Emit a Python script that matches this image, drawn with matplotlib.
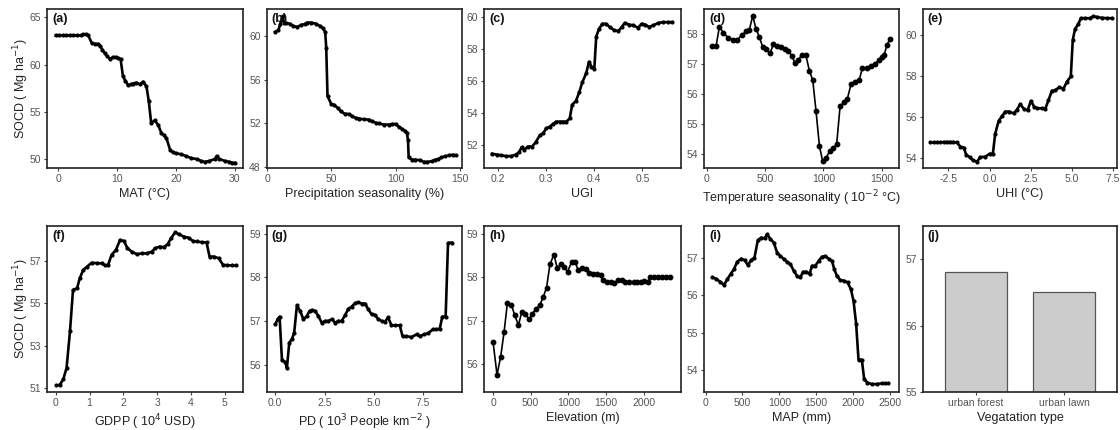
import matplotlib
matplotlib.use("Agg")
import matplotlib.pyplot as plt

plt.rcParams["font.family"] = ["Liberation Sans", "DejaVu Sans"]

# (a) mean annual temperature
mat_x = [-0.4, 0.2, 0.8, 1.4, 2.0, 2.6, 3.2, 3.8, 4.3, 4.8, 5.1, 5.7, 6.2, 6.8, 7.1, 7.5, 7.9, 8.3,
         8.8, 9.3, 9.8, 10.2, 10.6, 11.0, 11.4, 11.9, 12.3, 12.7, 13.3, 13.9, 14.4, 15.0, 15.4, 15.8,
         16.4, 17.0, 17.5, 18.0, 18.4, 19.0, 19.5, 20.1, 20.9, 21.8, 22.6, 23.5, 24.3, 24.9, 25.7,
         26.6, 26.9, 27.4, 28.3, 29.1, 29.6, 30.0]
mat_y = [63.1, 63.1, 63.1, 63.1, 63.1, 63.1, 63.1, 63.1, 63.2, 63.2, 63.1, 62.3, 62.2, 62.2, 62.0,
         61.6, 61.2, 60.9, 60.6, 60.8, 60.8, 60.7, 60.6, 58.8, 58.3, 57.8, 57.9, 58.0, 58.1, 57.9,
         58.2, 57.7, 56.1, 53.8, 54.1, 53.6, 52.8, 52.5, 52.2, 51.0, 50.7, 50.6, 50.5, 50.3, 50.1,
         50.0, 49.8, 49.7, 49.8, 50.0, 50.3, 50.0, 49.8, 49.7, 49.6, 49.6]

# (b) precipitation seasonality
ps_x = [5.9, 8.5, 10.2, 11.8, 12.9, 14.9, 17.3, 20.1, 23.2, 26.5, 29.1, 30.9, 34.3, 37.6, 40.8,
        43.2, 45.1, 45.9, 46.9, 49.7, 52.0, 55.1, 57.1, 60.2, 63.9, 66.3, 69.1, 71.4, 75.5, 79.4,
        81.6, 84.5, 86.7, 90.8, 94.9, 97.4, 100.0, 102.5, 105.1, 107.7, 108.9, 109.7, 110.2,
        112.8, 115.3, 119.3, 121.8, 124.4, 128.3, 130.9, 133.4, 135.7, 138.7, 141.8, 144.8, 146.9]
ps_y = [60.35, 60.5, 61.1, 61.8, 61.2, 61.15, 61.1, 60.9, 60.8, 61.0, 61.05, 61.2, 61.2, 61.1,
        60.9, 60.7, 60.35, 58.9, 54.5, 53.8, 53.7, 53.4, 53.1, 52.9, 52.85, 52.65, 52.5, 52.45,
        52.37, 52.35, 52.2, 52.07, 52.0, 51.9, 51.9, 51.95, 51.95, 51.7, 51.5, 51.3, 51.1, 50.45,
        48.9, 48.7, 48.7, 48.65, 48.5, 48.5, 48.55, 48.7, 48.75, 48.9, 49.0, 49.1, 49.15, 49.1]

# (c) urban green index
ugi_x = [0.1875, 0.197, 0.207, 0.217, 0.228, 0.237, 0.244, 0.249, 0.255, 0.262, 0.271, 0.278,
         0.287, 0.294, 0.300, 0.307, 0.314, 0.321, 0.328, 0.335, 0.342, 0.349, 0.354, 0.362,
         0.369, 0.375, 0.383, 0.389, 0.394, 0.400, 0.404, 0.410, 0.417, 0.424, 0.432, 0.441,
         0.450, 0.457, 0.463, 0.472, 0.481, 0.491, 0.498, 0.505, 0.514, 0.522, 0.533, 0.543,
         0.553, 0.562]
ugi_y = [51.45, 51.4, 51.35, 51.3, 51.3, 51.4, 51.55, 51.85, 51.7, 51.9, 51.9, 52.15, 52.6, 52.73,
         53.03, 53.13, 53.3, 53.45, 53.45, 53.45, 53.45, 53.65, 54.5, 54.75, 55.3, 55.9, 56.45,
         57.18, 56.88, 56.72, 58.75, 59.25, 59.55, 59.55, 59.35, 59.15, 59.1, 59.35, 59.6, 59.5,
         59.45, 59.3, 59.55, 59.5, 59.35, 59.45, 59.6, 59.65, 59.65, 59.65]

# (d) temperature seasonality
ts_x = [43, 80, 109, 143, 186, 229, 263, 300, 337, 366, 394, 423, 451, 480, 509, 543, 571, 600,
        634, 669, 700, 729, 757, 786, 814, 849, 880, 909, 937, 966, 994, 1023, 1057, 1086, 1114,
        1143, 1177, 1206, 1237, 1271, 1306, 1334, 1371, 1409, 1443, 1475, 1500, 1520, 1545, 1571]
ts_y = [57.58, 57.58, 58.24, 58.03, 57.87, 57.8, 57.8, 57.96, 58.08, 58.14, 58.6, 58.17, 57.9,
        57.56, 57.48, 57.35, 57.65, 57.6, 57.56, 57.5, 57.43, 57.27, 57.02, 57.12, 57.3, 57.3,
        56.77, 56.45, 55.42, 54.26, 53.74, 53.86, 54.1, 54.2, 54.32, 55.58, 55.72, 55.84, 56.32,
        56.4, 56.45, 56.85, 56.87, 56.92, 57.0, 57.12, 57.22, 57.3, 57.62, 57.84]

# (e) urban heat island
uhi_x = [-3.6, -3.4, -3.2, -3.0, -2.8, -2.6, -2.4, -2.2, -2.0, -1.78, -1.58, -1.42, -1.21, -1.01,
         -0.77, -0.57, -0.26, 0.0, 0.2, 0.34, 0.55, 0.75, 0.95, 1.21, 1.46, 1.66, 1.86, 2.1, 2.31,
         2.51, 2.71, 2.91, 3.18, 3.38, 3.58, 3.79, 3.99, 4.25, 4.49, 4.7, 4.94, 5.06, 5.2, 5.4,
         5.55, 5.81, 6.11, 6.32, 6.56, 6.82, 7.13, 7.43]
uhi_y = [54.75, 54.75, 54.75, 54.75, 54.77, 54.77, 54.77, 54.77, 54.75, 54.55, 54.5, 54.15, 54.03,
         53.87, 53.8, 54.03, 54.05, 54.2, 54.2, 55.17, 55.8, 56.03, 56.26, 56.26, 56.17, 56.35,
         56.62, 56.38, 56.32, 56.78, 56.5, 56.42, 56.42, 56.38, 56.81, 57.28, 57.3, 57.46, 57.37,
         57.72, 57.98, 59.77, 60.3, 60.55, 60.83, 60.83, 60.83, 60.93, 60.88, 60.85, 60.83, 60.83]

# (f) GDP per capita
gdp_x = [0.02, 0.12, 0.22, 0.32, 0.42, 0.51, 0.63, 0.71, 0.81, 0.93, 1.06, 1.21, 1.36, 1.46, 1.55,
         1.65, 1.78, 1.9, 2.02, 2.12, 2.25, 2.4, 2.54, 2.69, 2.84, 2.94, 3.07, 3.19, 3.31, 3.41,
         3.53, 3.66, 3.8, 3.93, 4.06, 4.18, 4.33, 4.46, 4.55, 4.67, 4.82, 4.95, 5.07, 5.2, 5.32]
gdp_y = [51.12, 51.15, 51.4, 51.95, 53.67, 55.62, 55.7, 56.17, 56.56, 56.72, 56.9, 56.88, 56.87,
         56.77, 56.8, 57.27, 57.5, 57.97, 57.92, 57.58, 57.42, 57.3, 57.34, 57.34, 57.42, 57.58,
         57.66, 57.63, 57.77, 58.05, 58.33, 58.23, 58.12, 58.08, 57.92, 57.9, 57.86, 57.86, 57.19,
         57.19, 57.11, 56.8, 56.78, 56.77, 56.77]

# (g) population density
pd_x = [0.0, 0.12, 0.22, 0.34, 0.51, 0.59, 0.71, 0.84, 0.96, 1.1, 1.26, 1.43, 1.6, 1.74, 1.85,
        2.02, 2.19, 2.36, 2.53, 2.7, 2.87, 3.04, 3.2, 3.37, 3.54, 3.71, 3.88, 4.05, 4.22, 4.38,
        4.55, 4.72, 4.89, 5.06, 5.23, 5.4, 5.56, 5.73, 5.9, 6.07, 6.32, 6.46, 6.66, 6.91, 7.17,
        7.34, 7.54, 7.76, 8.01, 8.18, 8.35, 8.48, 8.65, 8.77, 8.95]
pd_y = [56.92, 57.04, 57.1, 56.1, 56.05, 55.92, 56.5, 56.58, 56.73, 57.36, 57.23, 57.04, 57.11,
        57.23, 57.25, 57.23, 57.11, 56.96, 57.0, 57.0, 57.04, 56.96, 57.0, 57.0, 57.13, 57.28,
        57.33, 57.41, 57.43, 57.4, 57.4, 57.27, 57.15, 57.14, 57.04, 57.0, 56.98, 57.08, 56.9,
        56.9, 56.9, 56.65, 56.65, 56.63, 56.69, 56.65, 56.69, 56.72, 56.81, 56.81, 56.82, 57.1,
        57.1, 58.79, 58.8]

# (h) elevation
elev_x = [0, 53, 102, 147, 191, 244, 289, 338, 382, 431, 480, 524, 573, 622, 667, 711, 756, 809,
          853, 898, 942, 991, 1044, 1089, 1133, 1178, 1231, 1280, 1333, 1387, 1431, 1467, 1511,
          1564, 1613, 1658, 1711, 1756, 1813, 1867, 1911, 1964, 2009, 2053, 2089, 2133, 2187,
          2244, 2302, 2350]
elev_y = [56.51, 55.75, 56.17, 56.74, 57.41, 57.37, 57.12, 56.9, 57.2, 57.15, 57.03, 57.16, 57.28,
          57.36, 57.55, 57.76, 58.3, 58.53, 58.22, 58.3, 58.25, 58.13, 58.36, 58.36, 58.17, 58.22,
          58.2, 58.11, 58.08, 58.08, 58.06, 57.93, 57.89, 57.9, 57.88, 57.93, 57.93, 57.89, 57.89,
          57.89, 57.89, 57.89, 57.92, 57.89, 58.0, 58.0, 58.0, 58.0, 58.0, 58.0]

# (i) mean annual precipitation
map_x = [90, 135, 194, 248, 293, 338, 384, 429, 483, 528, 573, 618, 663, 708, 754, 799, 835, 880,
         925, 970, 1015, 1061, 1106, 1151, 1196, 1241, 1286, 1322, 1367, 1412, 1444, 1489, 1534,
         1579, 1625, 1670, 1715, 1747, 1782, 1828, 1882, 1927, 1972, 2008, 2044, 2076, 2121,
         2153, 2198, 2256, 2324, 2392, 2440, 2480]
map_y = [56.47, 56.44, 56.36, 56.27, 56.42, 56.56, 56.69, 56.89, 56.97, 56.93, 56.8, 56.93, 57.0,
         57.46, 57.53, 57.51, 57.62, 57.49, 57.4, 57.13, 57.04, 56.96, 56.89, 56.82, 56.65, 56.51,
         56.47, 56.62, 56.62, 56.56, 56.78, 56.78, 56.91, 57.02, 57.04, 56.97, 56.91, 56.69,
         56.51, 56.4, 56.38, 56.34, 56.16, 55.85, 55.23, 54.28, 54.28, 53.76, 53.67, 53.63, 53.63,
         53.65, 53.65, 53.65]

# (j) vegetation type
veg_types = ["urban forest", "urban lawn"]
veg_socd = [56.8, 56.5]

W, H = 1120, 430
fig = plt.figure(figsize=(W / 100, H / 100), dpi=100)

cols = [(47, 243), (267, 462), (484, 681), (704, 899), (923, 1117)]
rows = [(9, 168), (226, 392)]


def make_ax(r, c):
    x0, x1 = cols[c]
    y0, y1 = rows[r]
    ax = fig.add_axes([x0 / W, 1 - y1 / H, (x1 - x0) / W, (y1 - y0) / H])
    for s in ax.spines.values():
        s.set_color("#222222")
        s.set_linewidth(1.2)
    ax.tick_params(direction="out", length=2.5, width=0.8, color="#444444",
                   labelcolor="#555555", labelsize=7.5, pad=2)
    return ax


ylab = "SOCD ( Mg ha$^{-1}$)"
panels = [
    (0, 0, "(a)", mat_x, mat_y, "MAT (°C)", (-1.9, 31.4), (49.05, 65.9), [0, 10, 20, 30], ["0", "10", "20", "30"], [50, 55, 60, 65], "thick"),
    (0, 1, "(b)", ps_x, ps_y, "Precipitation seasonality (%)", (-0.3, 151.8), (47.94, 62.44), [0, 50, 100, 150], ["0", "50", "100", "150"], [48, 52, 56, 60], "thick"),
    (0, 2, "(c)", ugi_x, ugi_y, "UGI", (0.171, 0.58), (50.56, 60.47), [0.2, 0.3, 0.4, 0.5], ["0.2", "0.3", "0.4", "0.5"], [52, 54, 56, 58, 60], "thick"),
    (0, 3, "(d)", ts_x, ts_y, "Temperature seasonality ( 10$^{-2}$ °C)", (-23, 1648), (53.52, 58.83), [0, 500, 1000, 1500], ["0", "500", "1000", "1500"], [54, 55, 56, 57, 58], "thin"),
    (0, 4, "(e)", uhi_x, uhi_y, "UHI (°C)", (-4.05, 7.75), (53.5, 61.28), [-2.5, 0, 2.5, 5, 7.5], ["-2.5", "0.0", "2.5", "5.0", "7.5"], [54, 56, 58, 60], "thick"),
    (1, 0, "(f)", gdp_x, gdp_y, "GDPP ( 10$^{4}$ USD)", (-0.26, 5.54), (50.81, 58.63), [0, 1, 2, 3, 4, 5], ["0", "1", "2", "3", "4", "5"], [51, 53, 55, 57], "thick"),
    (1, 1, "(g)", pd_x, pd_y, "PD ( 10$^{3}$ People km$^{-2}$ )", (-0.42, 9.48), (55.37, 59.18), [0, 2.5, 5, 7.5], ["0.0", "2.5", "5.0", "7.5"], [56, 57, 58, 59], "thick"),
    (1, 2, "(h)", elev_x, elev_y, "Elevation (m)", (-120, 2498), (55.35, 59.19), [0, 500, 1000, 1500, 2000], ["0", "500", "1000", "1500", "2000"], [56, 57, 58, 59], "thin"),
    (1, 3, "(i)", map_x, map_y, "MAP (mm)", (-23, 2626), (53.42, 57.84), [0, 500, 1000, 1500, 2000, 2500], ["0", "500", "1000", "1500", "2000", "2500"], [54, 55, 56, 57], "thick"),
]

for r, c, tag, xs, ys, xlabel, xlim, ylim, xt, xtl, yt, style in panels:
    ax = make_ax(r, c)
    if style == "thin":
        ax.plot(xs, ys, color="black", lw=1.2, marker="o", ms=3.2, zorder=3)
    else:
        ax.plot(xs, ys, color="black", lw=1.9, marker="o", ms=2.0, zorder=3)
    ax.set_xlim(*xlim)
    ax.set_ylim(*ylim)
    ax.set_xticks(xt)
    ax.set_xticklabels(xtl)
    ax.set_yticks(yt)
    ax.set_xlabel(xlabel, fontsize=9, color="#222222", labelpad=3)
    if c == 0:
        ax.set_ylabel(ylab, fontsize=9, color="#222222", labelpad=-1.5)
    ax.text(0.025, 0.975, tag, transform=ax.transAxes, ha="left", va="top",
            fontsize=9, fontweight="bold", color="#111111", zorder=4)

# vegetation type bars
ax = make_ax(1, 4)
ax.bar([1, 2], veg_socd, width=0.7, color="#cccccc", edgecolor="#555555", lw=0.9)
ax.set_xlim(0.4, 2.6)
ax.set_ylim(55, 57.5)
ax.set_xticks([1, 2])
ax.set_xticklabels(veg_types)
ax.set_yticks([55, 56, 57])
ax.set_xlabel("Vegatation type", fontsize=9, color="#222222", labelpad=3)
ax.text(0.025, 0.975, "(j)", transform=ax.transAxes, ha="left", va="top",
        fontsize=9, fontweight="bold", color="#111111", zorder=4)

fig.savefig("out.png", dpi=100)
